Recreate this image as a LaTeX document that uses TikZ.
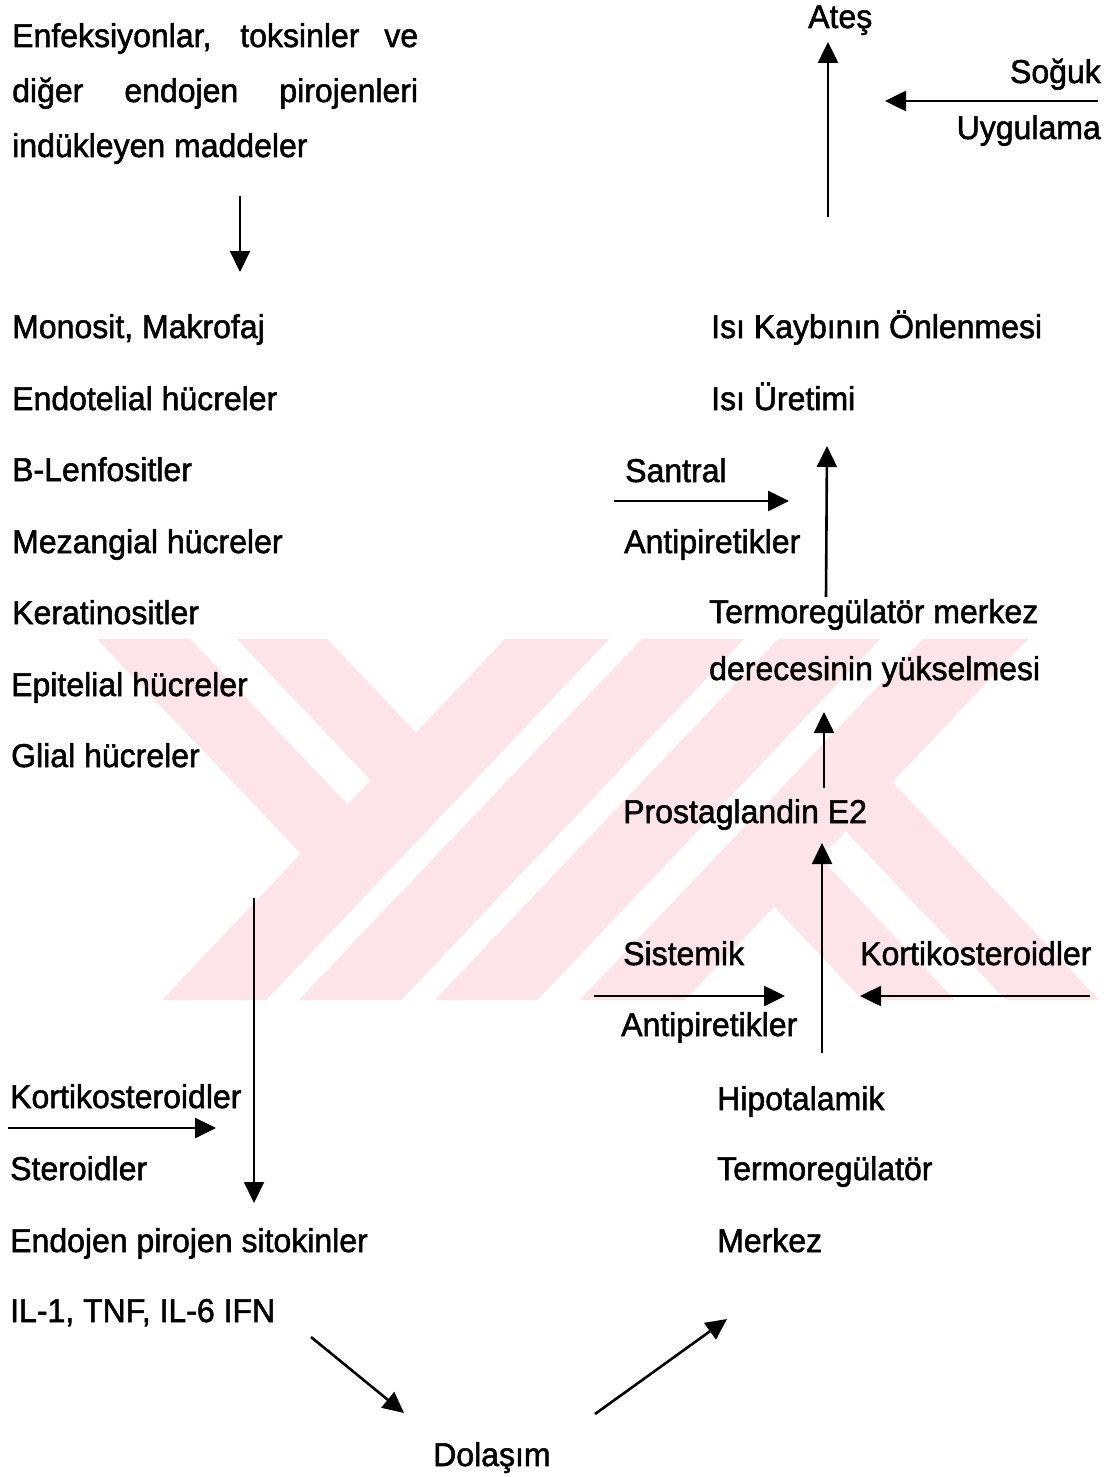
\documentclass[tikz,border=0pt]{standalone}
\usepackage{fontspec}
\usetikzlibrary{arrows.meta}
\newfontfamily\scanfont{Liberation Sans}[FakeBold=1.6,FakeStretch=0.97]
\definecolor{wmpink}{RGB}{252,228,232}
\tikzset{
  txt/.style={anchor=base west, inner sep=0pt, font=\scanfont\fontsize{33}{38}\selectfont},
  txtr/.style={txt, anchor=base east},
  arr/.style={line width=2.6pt, -{Triangle[length=21pt,width=20pt]}},
  thinarr/.style={arr, line width=2.1pt},
  wm/.style={fill=wmpink, draw=none}
}
\begin{document}
\begin{tikzpicture}[x=1pt,y=-1pt]
\fill[white] (0,0) rectangle (1103,1477);
\useasboundingbox (0,0) rectangle (1103,1477);
% watermark
\fill[wm] (505,639) -- (609,639) -- (266,1000) -- (162,1000) -- cycle;
\fill[wm] (642,639) -- (744,639) -- (401,1000) -- (299,1000) -- cycle;
\fill[wm] (778,639) -- (880,639) -- (537,1000) -- (435,1000) -- cycle;
\fill[wm] (923,639) -- (1028,639) -- (685,1000) -- (580,1000) -- cycle;
\fill[wm] (97,639) -- (190,639) -- (373.5,832) -- (327,881) -- cycle;
\fill[wm] (237,639) -- (327,639) -- (442,760) -- (397,808) -- cycle;
\fill[wm] (747.5,878.4) -- (793.5,830) -- (955,1000) -- (863,1000) -- cycle;
\fill[wm] (819,803) -- (865.5,754) -- (1099,1000) -- (1006,1000) -- cycle;
% left column
\node[txt] (l1) at (12,47) {\makebox[406pt][s]{Enfeksiyonlar, toksinler ve}};
\node[txt] (l2) at (12,102) {\makebox[406pt][s]{diğer endojen pirojenleri}};
\node[txt] (l3) at (12,157) {indükleyen maddeler};
\node[txt] (m1) at (12,338) {Monosit, Makrofaj};
\node[txt] (m2) at (12,410) {Endotelial hücreler};
\node[txt] (m3) at (12,481) {B-Lenfositler};
\node[txt] (m4) at (12,553) {Mezangial hücreler};
\node[txt] (m5) at (12,624) {Keratinositler};
\node[txt] (m6) at (11,696) {Epitelial hücreler};
\node[txt] (m7) at (11,767) {Glial hücreler};
\node[txt] (k1) at (10,1108) {Kortikosteroidler};
\node[txt] (s1) at (10,1180) {Steroidler};
\node[txt] (e1) at (10,1252) {Endojen pirojen sitokinler};
\node[txt] (e2) at (10,1322) {IL-1, TNF, IL-6 IFN};
\node[txt] (dol) at (433,1466) {Dolaşım};
% right column
\node[txt] (h1) at (717,1110) {Hipotalamik};
\node[txt] (h2) at (717,1180) {Termoregülatör};
\node[txt] (h3) at (717,1252) {Merkez};
\node[txt] (sis) at (623,965) {Sistemik};
\node[txt] (ap1) at (621,1036) {Antipiretikler};
\node[txt] (k2) at (860,965) {Kortikosteroidler};
\node[txt] (pg) at (623,823) {Prostaglandin E2};
\node[txt] (tm1) at (709,623) {Termoregülatör merkez};
\node[txt] (tm2) at (709,680) {derecesinin yükselmesi};
\node[txt] (san) at (625,482) {Santral};
\node[txt] (ap2) at (624,553) {Antipiretikler};
\node[txt] (isi1) at (711,338) {Isı Kaybının Önlenmesi};
\node[txt] (isi2) at (711,410) {Isı Üretimi};
\node[txt] (ates) at (808,28) {Ateş};
\node[txtr] (sog) at (1101,83) {Soğuk};
\node[txtr] (uyg) at (1101,139) {Uygulama};
% connector end points
\coordinate (a1s) at (240,196);  \coordinate (a1e) at (240,272);
\coordinate (a2s) at (254,898);  \coordinate (a2e) at (254,1203);
\coordinate (a3s) at (8,1128);   \coordinate (a3e) at (216,1128);
\coordinate (a4s) at (311,1337); \coordinate (a4e) at (404,1413);
\coordinate (a5s) at (595,1414); \coordinate (a5e) at (727,1319);
\coordinate (a6s) at (594,996);  \coordinate (a6e) at (785,996);
\coordinate (a7s) at (1090,996); \coordinate (a7e) at (860,996);
\coordinate (a8s) at (822,1053); \coordinate (a8e) at (822,843);
\coordinate (a9s) at (824,788);  \coordinate (a9e) at (824,712);
\coordinate (a10s) at (826,597); \coordinate (a10e) at (827,446);
\coordinate (a11s) at (614,501); \coordinate (a11e) at (789,501);
\coordinate (a12s) at (828,217); \coordinate (a12e) at (828,42);
\coordinate (a13s) at (1098,101); \coordinate (a13e) at (885,101);
\draw[thinarr] (a1s) -- (a1e);
\draw[thinarr] (a2s) -- (a2e);
\draw[arr] (a3s) -- (a3e);
\draw[arr] (a4s) -- (a4e);
\draw[arr] (a5s) -- (a5e);
\draw[arr] (a6s) -- (a6e);
\draw[arr] (a7s) -- (a7e);
\draw[arr] (a8s) -- (a8e);
\draw[arr] (a9s) -- (a9e);
\draw[arr] (a10s) -- (a10e);
\draw[arr] (a11s) -- (a11e);
\draw[arr] (a12s) -- (a12e);
\draw[arr] (a13s) -- (a13e);
\end{tikzpicture}
\end{document}
